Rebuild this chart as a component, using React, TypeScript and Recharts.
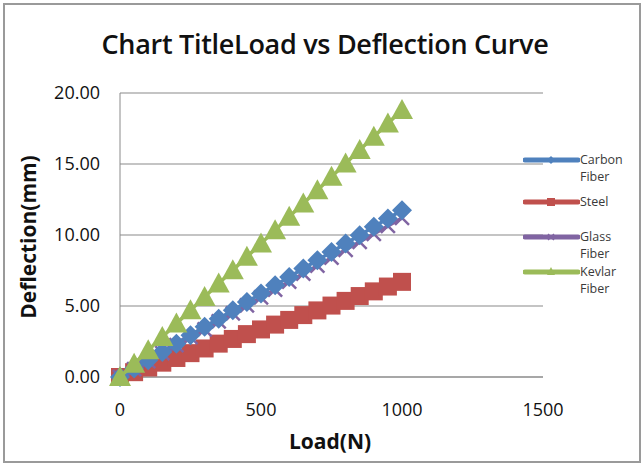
import React from "react";
import { ScatterChart, Scatter, XAxis, YAxis, CartesianGrid } from "recharts";

const loads = [0, 50, 100, 150, 200, 250, 300, 350, 400, 450, 500, 550, 600, 650, 700, 750, 800, 850, 900, 950, 1000];
const carbon = [0, 0.59, 1.18, 1.76, 2.35, 2.94, 3.53, 4.11, 4.7, 5.29, 5.88, 6.46, 7.05, 7.64, 8.23, 8.81, 9.4, 9.99, 10.58, 11.16, 11.75];
const steel = [0, 0.34, 0.67, 1.01, 1.34, 1.68, 2.01, 2.35, 2.68, 3.02, 3.35, 3.69, 4.02, 4.36, 4.69, 5.03, 5.36, 5.7, 6.03, 6.37, 6.7];
const glass = [0, 0.56, 1.12, 1.68, 2.24, 2.8, 3.36, 3.92, 4.48, 5.04, 5.6, 6.16, 6.72, 7.28, 7.84, 8.4, 8.96, 9.52, 10.08, 10.64, 11.2];
const kevlar = [0, 0.94, 1.88, 2.82, 3.76, 4.7, 5.64, 6.58, 7.52, 8.46, 9.4, 10.34, 11.28, 12.22, 13.16, 14.1, 15.04, 15.98, 16.92, 17.86, 18.8];
const xTicks = [0, 500, 1000, 1500];
const yTicks = [0, 5, 10, 15, 20];

const seriesNames = ["Carbon Fiber", "Steel", "Glass Fiber", "Kevlar Fiber"];
const colors = ["#4F81BD", "#C0504D", "#8064A2", "#9BBB59"];
// legend block heights, as in the original (uneven)
const legendGaps = [42, 35, 35, 35];

const toPoints = (ys: number[]) => loads.map((x, i) => ({ x, y: ys[i] }));

const Diamond = (p: any) => (
  <polygon
    points={`${p.cx},${p.cy - 10} ${p.cx + 10},${p.cy} ${p.cx},${p.cy + 10} ${p.cx - 10},${p.cy}`}
    fill={colors[0]}
  />
);
const Square = (p: any) => <rect x={p.cx - 9} y={p.cy - 9} width={18} height={18} fill={colors[1]} />;
const Cross = (p: any) => (
  <g stroke={colors[2]} strokeWidth={2.5}>
    <line x1={p.cx - 7} y1={p.cy - 7} x2={p.cx + 7} y2={p.cy + 7} />
    <line x1={p.cx - 7} y1={p.cy + 7} x2={p.cx + 7} y2={p.cy - 7} />
  </g>
);
const Triangle = (p: any) => (
  <polygon
    points={`${p.cx},${p.cy - 11} ${p.cx + 11},${p.cy + 9} ${p.cx - 11},${p.cy + 9}`}
    fill={colors[3]}
  />
);

// small legend markers
const legendMarker = (i: number) => {
  const c = colors[i];
  if (i === 0) return <polygon points="28,5 32,9 28,13 24,9" fill={c} />;
  if (i === 1) return <rect x={24} y={5} width={8} height={8} fill={c} />;
  if (i === 2)
    return (
      <g stroke={c} strokeWidth={1.5}>
        <line x1={25} y1={6} x2={31} y2={12} />
        <line x1={25} y1={12} x2={31} y2={6} />
      </g>
    );
  return <polygon points="28,4 32,12 24,12" fill={c} />;
};

const font = "'Open Sans', 'Noto Sans', sans-serif";

export default function App() {
  return (
    <div style={{ position: "absolute", left: 0, top: 0, width: 642, height: 463, background: "#fff", fontFamily: font }}>
      <div
        style={{
          position: "absolute",
          left: 3,
          top: 3,
          width: 634,
          height: 456,
          border: "2px solid #9a9a9a",
        }}
      />
      <div
        style={{
          position: "absolute",
          left: 0,
          top: 25,
          width: 650,
          textAlign: "center",
          fontSize: 27,
          fontWeight: 600,
          color: "#111",
          letterSpacing: -0.3,
        }}>
        Chart TitleLoad vs Deflection Curve
      </div>
      <div style={{ position: "absolute", left: 0, top: 427, width: 660, textAlign: "center", fontSize: 21, fontWeight: 700, color: "#111" }}>
        Load(N)
      </div>
      <div
        style={{
          position: "absolute",
          left: 28,
          top: 237,
          transform: "translate(-50%, -50%) rotate(-90deg)",
          whiteSpace: "nowrap",
          fontSize: 21,
          fontWeight: 700,
          color: "#111",
        }}>
        Deflection(mm)
      </div>
      <ScatterChart width={642} height={463} margin={{ top: 93, right: 99, bottom: 0, left: 0 }} style={{ position: "absolute", left: 0, top: 0 }}>
        <CartesianGrid vertical={false} stroke="#8a8a8a" strokeWidth={1.2} />
        <XAxis
          type="number"
          dataKey="x"
          domain={[0, 1500]}
          ticks={xTicks}
          height={86}
          stroke="#8a8a8a"
          tickLine={false}
          tickMargin={20}
          tick={{ fill: "#111", fontSize: 18, fontFamily: font }}
        />
        <YAxis
          type="number"
          dataKey="y"
          domain={[0, 20]}
          ticks={yTicks}
          width={120}
          stroke="#8a8a8a"
          tickLine={false}
          tickMargin={14}
          tickFormatter={(v: number) => v.toFixed(2)}
          tick={{ fill: "#111", fontSize: 18, fontFamily: font }}
        />
        <Scatter name={seriesNames[1]} data={toPoints(steel)} fill={colors[1]} line={{ stroke: colors[1], strokeWidth: 3.5 }} shape={Square} isAnimationActive={false} />
        <Scatter name={seriesNames[2]} data={toPoints(glass)} fill={colors[2]} line={{ stroke: colors[2], strokeWidth: 3.5 }} shape={Cross} isAnimationActive={false} />
        <Scatter name={seriesNames[0]} data={toPoints(carbon)} fill={colors[0]} line={{ stroke: colors[0], strokeWidth: 3.5 }} shape={Diamond} isAnimationActive={false} />
        <Scatter name={seriesNames[3]} data={toPoints(kevlar)} fill={colors[3]} line={{ stroke: colors[3], strokeWidth: 3.5 }} shape={Triangle} isAnimationActive={false} />
      </ScatterChart>
      <div style={{ position: "absolute", left: 523, top: 151, fontSize: 12.5, color: "#3a3a3a", lineHeight: "17px" }}>
        {seriesNames.map((name, i) => {
          const [first, ...rest] = name.split(" ");
          return (
            <div key={name} style={{ display: "flex", alignItems: "flex-start", height: legendGaps[i] }}>
              <svg width={57} height={17} style={{ flexShrink: 0 }}>
                <line x1={2} y1={9} x2={55} y2={9} stroke={colors[i]} strokeWidth={5} strokeLinecap="round" />
                {legendMarker(i)}
              </svg>
              <div>
                <div>{first}</div>
                {rest.length > 0 && <div>{rest.join(" ")}</div>}
              </div>
            </div>
          );
        })}
      </div>
    </div>
  );
}
